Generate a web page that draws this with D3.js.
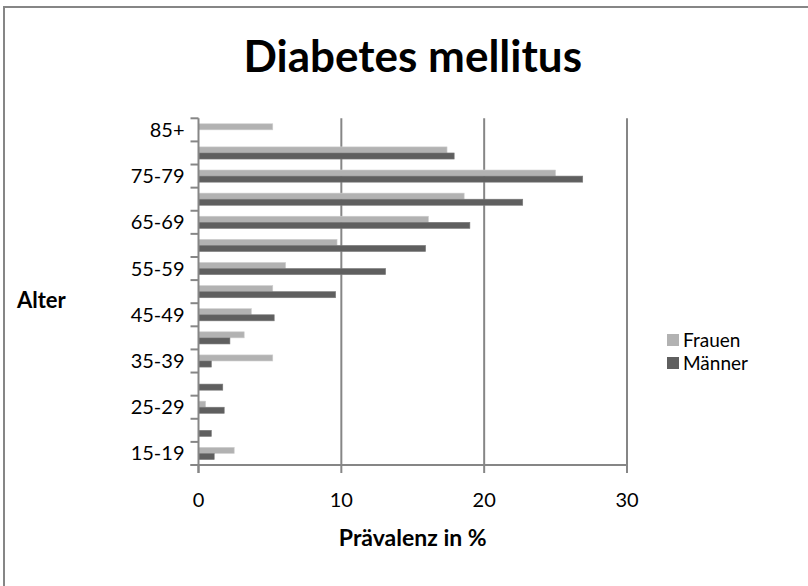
<!DOCTYPE html>
<html lang="de">
<head>
<meta charset="UTF-8">
<title>Diabetes mellitus</title>
<script src="https://d3js.org/d3.v7.min.js"></script>
<style>
    body { margin: 0; background: #fff; }
    text { font-family: Lato, "Open Sans", sans-serif; fill: #000; }
</style>
</head>
<body>
<div id="chart"></div>
<script>
    // age groups, bottom to top
    var ageGroups = ["15-19", "20-24", "25-29", "30-34", "35-39", "40-44", "45-49",
        "50-54", "55-59", "60-64", "65-69", "70-74", "75-79", "80-84", "85+"];
    var frauen = [2.5, 0, 0.5, 0, 5.2, 3.2, 3.7, 5.2, 6.1, 9.7, 16.1, 18.6, 25.0, 17.4, 5.2];
    var maenner = [1.1, 0.9, 1.8, 1.7, 0.9, 2.2, 5.3, 9.6, 13.1, 15.9, 19.0, 22.7, 26.9, 17.9, 0];
    var seriesNames = ["Frauen", "Männer"];
    var seriesColors = ["#b2b2b2", "#5f5f5f"];
    var xTicks = [0, 10, 20, 30];

    var W = 808, H = 586;
    var plot = { left: 198.5, right: 627, top: 118.3, bottom: 465 };

    var svg = d3.select("#chart").append("svg")
        .attr("width", W).attr("height", H);

    // outer frame (cut off at right and bottom)
    svg.append("rect")
        .attr("x", 4).attr("y", 7)
        .attr("width", W + 20).attr("height", H + 20)
        .attr("fill", "none").attr("stroke", "#868686").attr("stroke-width", 2);

    var x = d3.scaleLinear().domain([0, 30]).range([plot.left, plot.right]);
    var y = d3.scaleBand()
        .domain(ageGroups.slice().reverse())
        .range([plot.top, plot.bottom]);
    var inner = d3.scaleBand()
        .domain(seriesNames)
        .range([0, y.bandwidth()])
        .paddingOuter(0.9).paddingInner(0);

    // gridlines
    svg.append("g").selectAll("line")
        .data(xTicks.slice(1))
        .enter().append("line")
        .attr("x1", function (d) { return x(d); })
        .attr("x2", function (d) { return x(d); })
        .attr("y1", plot.top).attr("y2", plot.bottom)
        .attr("stroke", "#868686").attr("stroke-width", 2);

    // bars
    var rows = ageGroups.map(function (g, i) {
        return { group: g, values: [frauen[i], maenner[i]] };
    });
    var groups = svg.append("g").selectAll("g")
        .data(rows)
        .enter().append("g")
        .attr("transform", function (d) { return "translate(0," + y(d.group) + ")"; });
    groups.selectAll("rect")
        .data(function (d) { return d.values.map(function (v, k) { return { k: k, v: v }; }); })
        .enter().append("rect")
        .filter(function (d) { return d.v > 0; })
        .attr("x", x(0))
        .attr("y", function (d) { return inner(seriesNames[d.k]); })
        .attr("width", function (d) { return x(d.v) - x(0); })
        .attr("height", inner.bandwidth())
        .attr("fill", function (d) { return seriesColors[d.k]; })
        .attr("stroke", function (d) { return d.k === 0 ? "#cfcfcf" : "#7a7a7a"; })
        .attr("stroke-width", 0.6);

    // y axis
    var yAxis = svg.append("g")
        .attr("transform", "translate(" + plot.left + ",0)");
    yAxis.append("line")
        .attr("x1", 0).attr("x2", 0)
        .attr("y1", plot.top).attr("y2", plot.bottom + 8)
        .attr("stroke", "#868686").attr("stroke-width", 2);
    var bounds = ageGroups.map(function (g) { return y(g); }).concat([plot.bottom]);
    yAxis.selectAll(".tk").data(bounds).enter().append("line")
        .attr("x1", -8).attr("x2", 0)
        .attr("y1", function (d) { return d; }).attr("y2", function (d) { return d; })
        .attr("stroke", "#868686").attr("stroke-width", 2);
    yAxis.selectAll("text")
        .data(ageGroups.filter(function (g, i) { return i % 2 === 0; }))
        .enter().append("text")
        .attr("x", -14)
        .attr("y", function (d) { return y(d) + y.bandwidth() / 2; })
        .attr("dy", "0.35em")
        .attr("text-anchor", "end")
        .style("font-size", "20px")
        .text(function (d) { return d; });

    // x axis
    var xAxis = svg.append("g")
        .attr("transform", "translate(0," + plot.bottom + ")");
    xAxis.append("line")
        .attr("x1", plot.left - 8).attr("x2", plot.right)
        .attr("stroke", "#868686").attr("stroke-width", 2);
    xAxis.selectAll(".tk").data(xTicks).enter().append("line")
        .attr("x1", function (d) { return x(d); }).attr("x2", function (d) { return x(d); })
        .attr("y1", 0).attr("y2", 8)
        .attr("stroke", "#868686").attr("stroke-width", 2);
    xAxis.selectAll("text").data(xTicks).enter().append("text")
        .attr("x", function (d) { return x(d); })
        .attr("y", 35)
        .attr("dy", "0.35em")
        .attr("text-anchor", "middle")
        .style("font-size", "20px")
        .text(function (d) { return d; });

    // titles
    svg.append("text")
        .attr("x", (plot.left + plot.right) / 2).attr("y", 72)
        .attr("text-anchor", "middle")
        .style("font-size", "44px").style("font-weight", "bold")
        .text("Diabetes mellitus");
    svg.append("text")
        .attr("x", (plot.left + plot.right) / 2).attr("y", 538)
        .attr("dy", "0.35em")
        .attr("text-anchor", "middle")
        .style("font-size", "23px").style("font-weight", "bold")
        .text("Prävalenz in %");
    svg.append("text")
        .attr("x", 17).attr("y", 300)
        .attr("dy", "0.35em")
        .style("font-size", "22px").style("font-weight", "bold")
        .text("Alter");

    // legend
    var legend = svg.append("g").selectAll("g")
        .data(seriesNames)
        .enter().append("g")
        .attr("transform", function (d, i) { return "translate(667," + (340 + i * 23) + ")"; });
    legend.append("rect")
        .attr("x", 0).attr("y", -6).attr("width", 12).attr("height", 12)
        .attr("fill", function (d, i) { return seriesColors[i]; });
    legend.append("text")
        .attr("x", 16).attr("dy", "0.35em")
        .style("font-size", "19px")
        .text(function (d) { return d; });
</script>
</body>
</html>
